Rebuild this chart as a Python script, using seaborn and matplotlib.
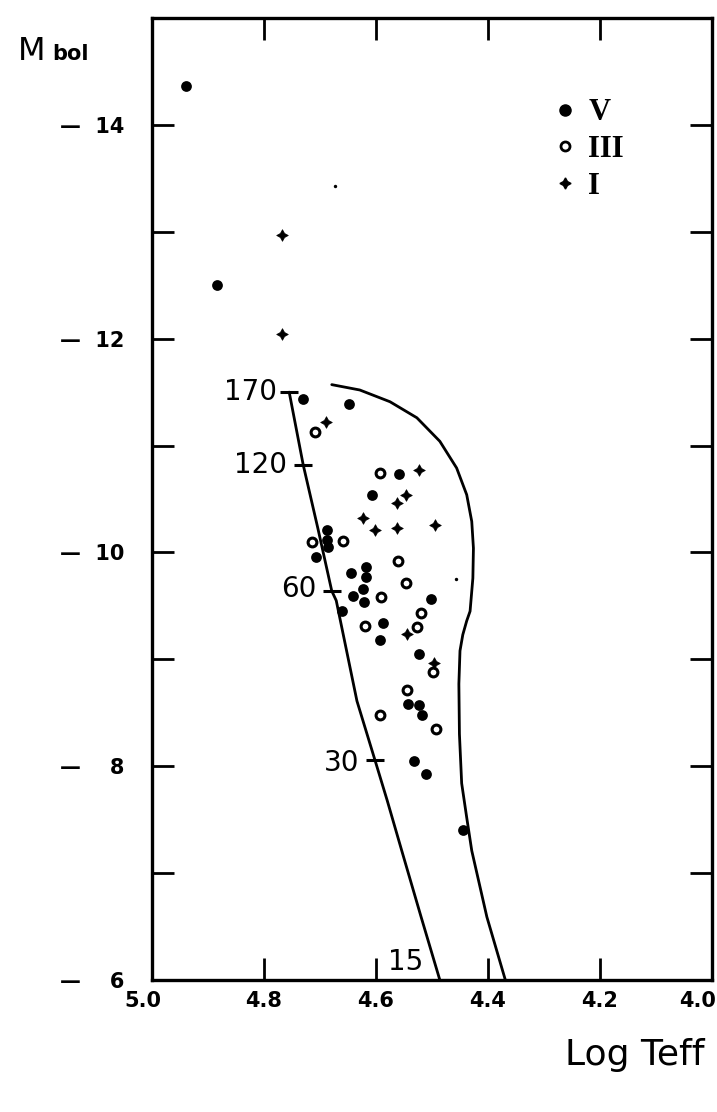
import matplotlib
matplotlib.use("Agg")
import matplotlib.pyplot as plt
import matplotlib.transforms as mtransforms
import seaborn as sns
import pandas as pd
from matplotlib.ticker import MultipleLocator
from matplotlib.lines import Line2D

# estilo base
sns.set_style("ticks")
plt.rcParams['font.family'] = ['DejaVu Sans']
plt.rcParams['text.color'] = 'black'
plt.rcParams['axes.edgecolor'] = 'black'
plt.rcParams['xtick.color'] = 'black'
plt.rcParams['ytick.color'] = 'black'

# estrelas de classe V (pontos cheios)
v_logt = [4.939, 4.884, 4.730, 4.648, 4.559, 4.607, 4.688, 4.687, 4.686, 4.708,
          4.645, 4.618, 4.618, 4.623, 4.641, 4.621, 4.501, 4.660, 4.588, 4.592,
          4.523, 4.542, 4.524, 4.517, 4.532, 4.511, 4.444]
v_mbol = [-14.36, -12.50, -11.44, -11.39, -10.73, -10.54, -10.21, -10.12, -10.05, -9.96,
          -9.81, -9.86, -9.77, -9.66, -9.59, -9.54, -9.56, -9.45, -9.34, -9.18,
          -9.05, -8.58, -8.57, -8.48, -8.05, -7.93, -7.40]

# classe III (círculos abertos)
iii_logt = [4.709, 4.592, 4.714, 4.659, 4.560, 4.546, 4.591, 4.520, 4.620, 4.526,
            4.498, 4.545, 4.592, 4.492]
iii_mbol = [-11.13, -10.74, -10.10, -10.11, -9.92, -9.71, -9.58, -9.43, -9.31, -9.30,
            -8.88, -8.71, -8.48, -8.35]

# classe I (cruzes)
i_logt = [4.768, 4.767, 4.690, 4.523, 4.547, 4.563, 4.623, 4.601, 4.563, 4.495,
          4.545, 4.496]
i_mbol = [-12.97, -12.04, -11.22, -10.77, -10.54, -10.46, -10.32, -10.21, -10.23, -10.26,
          -9.24, -8.97]

# pontinhos soltos
dot_logt = [4.673, 4.457]
dot_mbol = [-13.43, -9.75]

# trilha da ZAMS (curva da esquerda)
zams_logt = [4.755, 4.730, 4.704, 4.679, 4.671, 4.634, 4.602, 4.580, 4.554, 4.520, 4.486]
zams_mbol = [-11.50, -10.82, -10.23, -9.64, -9.55, -8.61, -8.06, -7.68, -7.21, -6.60, -6.00]

# curva da direita
tams_logt = [4.679, 4.629, 4.575, 4.527, 4.486, 4.456, 4.438, 4.429, 4.426, 4.427,
             4.432, 4.438, 4.445, 4.450, 4.452, 4.451, 4.447, 4.438, 4.429, 4.402, 4.369]
tams_mbol = [-11.57, -11.52, -11.41, -11.26, -11.04, -10.79, -10.54, -10.29, -10.04, -9.76,
             -9.45, -9.36, -9.23, -9.08, -8.77, -8.30, -7.84, -7.52, -7.21, -6.59, -6.00]

# massas marcadas na ZAMS
mass_labels = ["170", "120", "60", "30", "15"]
mass_logt = [4.755, 4.730, 4.679, 4.602, 4.486]
mass_mbol = [-11.50, -10.82, -9.64, -8.06, -6.00]
mass_text_logt = [4.777, 4.759, 4.706, 4.629, 4.516]
mass_text_mbol = [-11.50, -10.82, -9.66, -8.03, -6.17]

x_ticks = [5.0, 4.8, 4.6, 4.4, 4.2, 4.0]
x_labels = ["5.0", "4.8", "4.6", "4.4", "4.2", "4.0"]
y_ticks = [-14, -12, -10, -8, -6]
y_labels = ["\u2014  14", "\u2014  12", "\u2014  10", "\u2014  \u20078", "\u2014  \u20076"]

df_v = pd.DataFrame({"logt": v_logt, "mbol": v_mbol})
df_iii = pd.DataFrame({"logt": iii_logt, "mbol": iii_mbol})
df_i = pd.DataFrame({"logt": i_logt, "mbol": i_mbol})

fig = plt.figure(figsize=(7.17, 11.12), dpi=100)
ax = fig.add_axes([0.212, 0.1187, 0.781, 0.8651])

sns.lineplot(x=zams_logt, y=zams_mbol, sort=False, estimator=None,
             color="black", lw=2, ax=ax)
sns.lineplot(x=tams_logt, y=tams_mbol, sort=False, estimator=None,
             color="black", lw=2, ax=ax)
ax.plot(mass_logt, mass_mbol, ls="none", marker="_", ms=13, mew=2.2, color="black")
for lab, xt, yt in zip(mass_labels, mass_text_logt, mass_text_mbol):
    ax.text(xt, yt, lab, ha="right", va="center", fontsize=20)

sns.scatterplot(data=df_v, x="logt", y="mbol", s=60, color="black",
                edgecolor="black", linewidth=0, ax=ax)
sns.scatterplot(data=df_iii, x="logt", y="mbol", s=40, facecolor="white",
                edgecolor="black", linewidth=2.2, ax=ax)
sns.scatterplot(data=df_i, x="logt", y="mbol", s=70, marker=(4, 1, 0),
                color="black", edgecolor="black", linewidth=0.5, ax=ax)
sns.scatterplot(x=dot_logt, y=dot_mbol, s=6, color="black", linewidth=0, ax=ax)

# legenda
handles = [
    Line2D([], [], ls="none", marker="o", ms=8, color="black"),
    Line2D([], [], ls="none", marker="o", ms=6.5, mfc="white", mec="black", mew=2),
    Line2D([], [], ls="none", marker=(4, 1, 0), ms=8, color="black"),
]
ax.legend(handles, ["V", "III", "I"], loc="upper left", bbox_to_anchor=(0.662, 0.945),
          frameon=False, handlelength=1.0, handletextpad=0.25, labelspacing=0.25,
          prop={"family": "Liberation Serif", "weight": "bold", "size": 22})

ax.set_xlim(5.0, 4.0)
ax.set_ylim(-6, -15)
ax.set_xticks(x_ticks)
ax.set_xticklabels(x_labels)
ax.set_yticks(y_ticks)
ax.set_yticklabels(y_labels)
ax.yaxis.set_minor_locator(MultipleLocator(1))
ax.set_xlabel("")
ax.set_ylabel("")

ax.tick_params(axis="both", which="both", direction="in", length=16, width=2,
               top=True, right=True, labelsize=15)
ax.tick_params(axis="x", pad=8)
ax.tick_params(axis="y", which="major", pad=20)
for lab in ax.get_xticklabels() + ax.get_yticklabels():
    lab.set_fontweight("bold")

# desloca os rótulos das pontas para dentro da figura
xlabs = ax.get_xticklabels()
xlabs[0].set_transform(xlabs[0].get_transform() +
                       mtransforms.ScaledTranslation(-0.09, 0, fig.dpi_scale_trans))
xlabs[-1].set_transform(xlabs[-1].get_transform() +
                        mtransforms.ScaledTranslation(-0.14, 0, fig.dpi_scale_trans))

for sp in ax.spines.values():
    sp.set_linewidth(2.4)
    sp.set_visible(True)

fig.text(0.983, 0.051, "Log Teff", ha="right", va="center", fontsize=26)
fig.text(0.025, 0.946, "M", ha="left", va="baseline", fontsize=23)
fig.text(0.073, 0.946, "bol", ha="left", va="baseline", fontsize=15, fontweight="bold")

fig.savefig("out.png", dpi=100)
